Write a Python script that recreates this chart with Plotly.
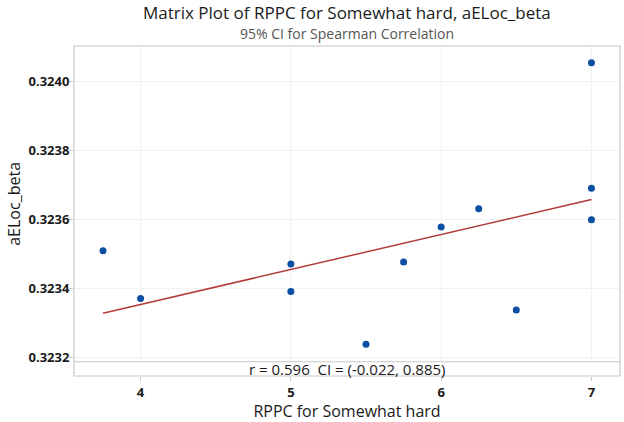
import numpy as np
import plotly.graph_objects as go

# RPPC for Somewhat hard vs aELoc_beta
rppc = [3.75, 4, 5, 5, 5.5, 5.75, 6, 6.25, 6.5, 7, 7, 7]
aeloc = [0.323509, 0.323371, 0.323471, 0.323391, 0.323238, 0.323477,
         0.323578, 0.323631, 0.323337, 0.324055, 0.323691, 0.323599]
x_ticks = [4, 5, 6, 7]
y_ticks = [0.3232, 0.3234, 0.3236, 0.3238, 0.3240]
stat_text = "r = 0.596  CI = (-0.022, 0.885)"

# least-squares fit line across the x span of the data
slope, icpt = np.polyfit(rppc, aeloc, 1)
fit_x = [min(rppc), max(rppc)]
fit_y = [icpt + slope * v for v in fit_x]

font_name = "Open Sans"
strip = 0.0432

fig = go.Figure()
fig.add_trace(go.Scatter(x=fit_x, y=fit_y, mode="lines",
                         line=dict(color="#B23B3B", width=1.5), hoverinfo="skip"))
fig.add_trace(go.Scatter(x=rppc, y=aeloc, mode="markers",
                         marker=dict(color="#0A4FA3", size=7)))

fig.update_layout(
    width=624, height=422,
    margin=dict(l=74, r=4, t=46, b=41),
    paper_bgcolor="white", plot_bgcolor="white",
    showlegend=False,
    font=dict(family=font_name, color="#1a1a1a"),
    xaxis=dict(range=[3.557, 7.19], tickvals=x_ticks, anchor="free", position=0,
               showgrid=True, gridcolor="#F1F1F1", zeroline=False,
               ticks="outside", ticklen=4, tickcolor="#C8C8C8",
               tickfont=dict(size=13, weight="bold"),
               title=dict(text="RPPC for Somewhat hard", font=dict(size=16), standoff=6)),
    yaxis=dict(range=[0.3231871, 0.3241037], domain=[strip, 1], tickvals=y_ticks,
               tickformat=".4f", showgrid=True, gridcolor="#F1F1F1", zeroline=False,
               ticks="outside", ticklen=4, tickcolor="#C8C8C8", ticklabelstandoff=-3,
               tickfont=dict(size=13, weight="bold"),
               title=dict(text="aELoc_beta", font=dict(size=16), standoff=3)),
    shapes=[
        dict(type="rect", xref="paper", yref="paper", x0=0, x1=1, y0=0, y1=1,
             line=dict(color="#C8C8C8", width=1.2)),
        dict(type="line", xref="paper", yref="paper", x0=0, x1=1, y0=strip, y1=strip,
             line=dict(color="#C8C8C8", width=1.2)),
    ],
    annotations=[
        dict(text="Matrix Plot of RPPC for Somewhat hard, aELoc_beta", xref="paper", yref="paper",
             x=0.5, y=1.1015, xanchor="center", yanchor="middle", showarrow=False,
             font=dict(size=17, color="#1a1a1a")),
        dict(text="95% CI for Spearman Correlation", xref="paper", yref="paper",
             x=0.5, y=1.0388, xanchor="center", yanchor="middle", showarrow=False,
             font=dict(size=14, color="#555555")),
        dict(text=stat_text, xref="paper", yref="paper", x=0.5, y=strip / 2,
             xanchor="center", yanchor="middle", showarrow=False,
             font=dict(size=15, color="#1a1a1a")),
    ],
)

# drop the default page margin so the figure sits at the window corner
fig.write_html("out.html", config={"displayModeBar": False},
               post_script="document.body.style.margin='0';")
